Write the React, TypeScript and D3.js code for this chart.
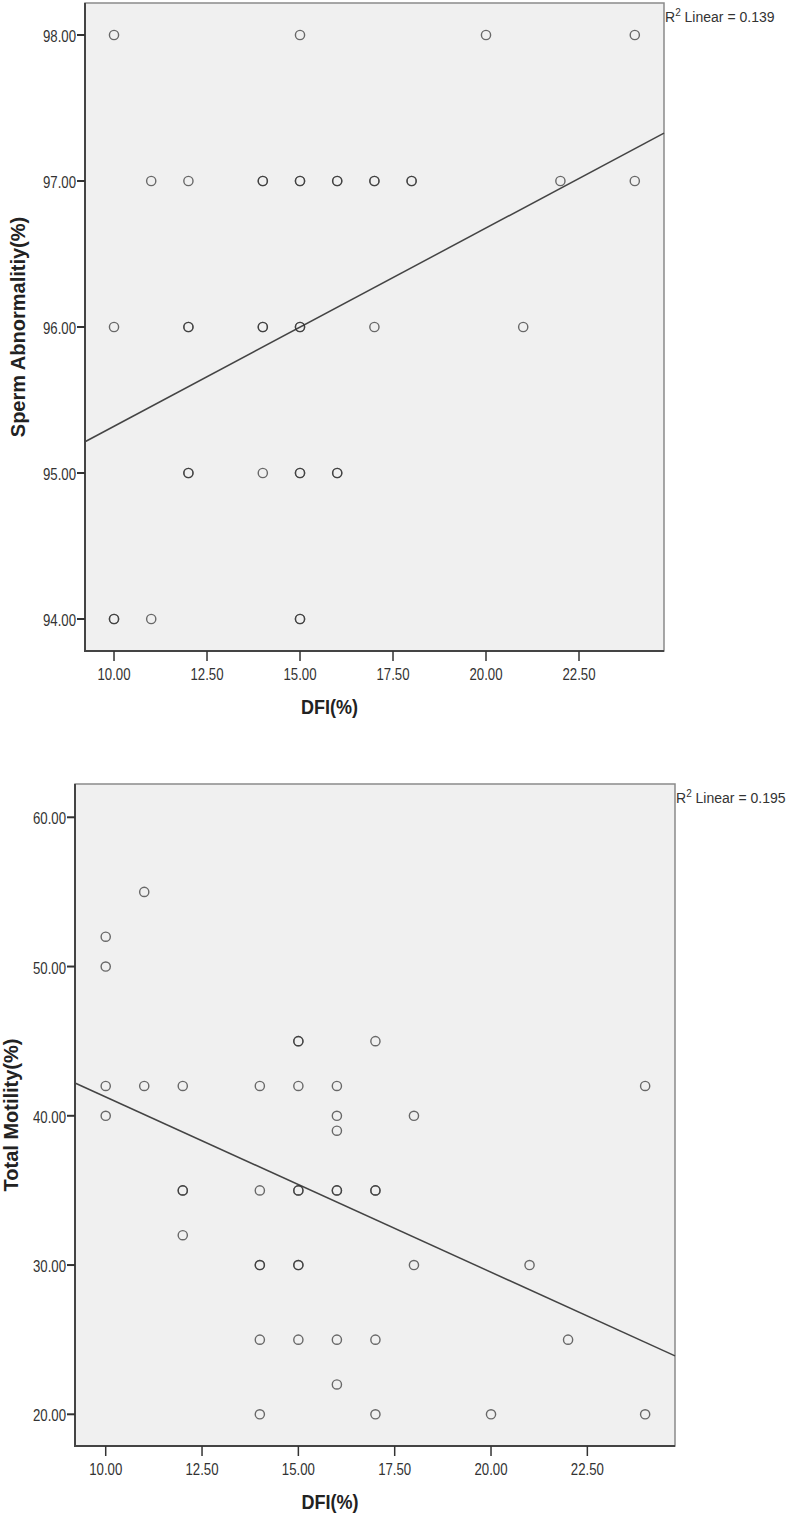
import React from "react";
import * as d3 from "d3";

// ---------- Data ----------
const xTicks = [10, 12.5, 15, 17.5, 20, 22.5];

// Chart 1: DFI(%) vs Sperm Abnormality(%)
const abnDFI = [
  10, 15, 20, 24,
  11, 12, 14, 14, 15, 15, 16, 16, 17, 17, 18, 18, 22, 24,
  10, 12, 12, 14, 14, 15, 15, 17, 21,
  12, 12, 14, 15, 15, 16, 16,
  10, 10, 11, 15, 15,
];
const abnValues = [
  98, 98, 98, 98,
  97, 97, 97, 97, 97, 97, 97, 97, 97, 97, 97, 97, 97, 97,
  96, 96, 96, 96, 96, 96, 96, 96, 96,
  95, 95, 95, 95, 95, 95, 95,
  94, 94, 94, 94, 94,
];
const abnTicks = [94, 95, 96, 97, 98];
const abnFit = { intercept: 93.962, slope: 0.1358, r2: "0.139" };

// Chart 2: DFI(%) vs Total Motility(%)
const motDFI = [
  11, 10, 10,
  15, 15, 17,
  10, 11, 12, 14, 15, 16, 24,
  10, 16, 18,
  16,
  12, 12, 14, 15, 15, 16, 16, 17, 17,
  12,
  14, 14, 15, 15, 18, 21,
  14, 15, 16, 17, 22,
  16,
  14, 17, 20, 24,
];
const motValues = [
  55, 52, 50,
  45, 45, 45,
  42, 42, 42, 42, 42, 42, 42,
  40, 40, 40,
  39,
  35, 35, 35, 35, 35, 35, 35, 35, 35,
  32,
  30, 30, 30, 30, 30, 30,
  25, 25, 25, 25, 25,
  22,
  20, 20, 20, 20,
];
const motTicks = [20, 30, 40, 50, 60];
const motFit = { intercept: 53.0, slope: -1.174, r2: "0.195" };

const FONT = "'Liberation Sans', Arial, Helvetica, sans-serif";

type ChartProps = {
  xs: number[];
  ys: number[];
  yTicks: number[];
  fit: { intercept: number; slope: number; r2: string };
  xDomain: [number, number];
  yDomain: [number, number];
  left: number;
  right: number;
  top: number;
  bottom: number;
  yTitle: string;
  yTitleX: number;
};

function Scatter(p: ChartProps) {
  const x = d3.scaleLinear().domain(p.xDomain).range([p.left, p.right]);
  const y = d3.scaleLinear().domain(p.yDomain).range([p.bottom, p.top]);
  const fmt = d3.format(".2f");
  const line = d3
    .line<number>()
    .x((d) => x(d))
    .y((d) => y(p.fit.intercept + p.fit.slope * d));
  const midY = (p.top + p.bottom) / 2;
  const midX = (p.left + p.right) / 2;
  return (
    <g>
      <rect
        x={p.left}
        y={p.top}
        width={p.right - p.left}
        height={p.bottom - p.top}
        fill="#f0f0f0"
        stroke="#8a8a8a"
        strokeWidth={1.5}
      />
      <line x1={p.left} x2={p.left} y1={p.top} y2={p.bottom + 1} stroke="#444" strokeWidth={2} />
      <line x1={p.left} x2={p.right} y1={p.bottom} y2={p.bottom} stroke="#444" strokeWidth={2} />
      {/* y ticks */}
      {p.yTicks.map((t) => (
        <g key={"y" + t}>
          <line x1={p.left - 8} x2={p.left} y1={y(t)} y2={y(t)} stroke="#333" strokeWidth={2} />
          <text
            transform={`translate(${p.left - 9},${y(t) + 1}) scale(0.8,1)`}
            textAnchor="end"
            dominantBaseline="central"
            fontFamily={FONT}
            fontSize={16.5}
            fill="#333"
          >
            {fmt(t)}
          </text>
        </g>
      ))}
      {/* x ticks */}
      {xTicks.map((t) => (
        <g key={"x" + t}>
          <line x1={x(t)} x2={x(t)} y1={p.bottom} y2={p.bottom + 10} stroke="#333" strokeWidth={1.5} />
          <text
            transform={`translate(${x(t)},${p.bottom + 23}) scale(0.8,1)`}
            textAnchor="middle"
            dominantBaseline="central"
            fontFamily={FONT}
            fontSize={16.5}
            fill="#333"
          >
            {fmt(t)}
          </text>
        </g>
      ))}
      {/* fit line */}
      <path d={line([p.xDomain[0], p.xDomain[1]]) || ""} stroke="#444" strokeWidth={1.5} fill="none" />
      {/* points */}
      {p.xs.map((v, i) => (
        <circle
          key={i}
          cx={x(v)}
          cy={y(p.ys[i])}
          r={4.6}
          fill="none"
          stroke="#333"
          strokeOpacity={0.72}
          strokeWidth={1.4}
        />
      ))}
      {/* R2 label */}
      <text x={p.right + 1} y={p.top + 19} fontFamily={FONT} fontSize={14} fill="#333">
        <tspan>R</tspan>
        <tspan fontSize={10} dy={-6}>2</tspan>
        <tspan dy={6}>{" Linear = " + p.fit.r2}</tspan>
      </text>
      {/* axis titles */}
      <text
        transform={`translate(${midX - 45},${p.bottom + 56}) scale(0.9,1)`}
        textAnchor="middle"
        dominantBaseline="central"
        fontFamily={FONT}
        fontWeight="bold"
        fontSize={20}
        fill="#222"
      >
        DFI(%)
      </text>
      <text
        transform={`translate(${p.yTitleX},${midY}) rotate(-90)`}
        textAnchor="middle"
        dominantBaseline="central"
        fontFamily={FONT}
        fontWeight="bold"
        fontSize={20}
        fill="#222"
      >
        {p.yTitle}
      </text>
    </g>
  );
}

export default function App() {
  return (
    <svg
      width={787}
      height={1519}
      style={{ position: "absolute", left: 0, top: 0, background: "#fff" }}
    >
      <rect x={0} y={0} width={787} height={1519} fill="#fff" />
      <Scatter
        xs={abnDFI}
        ys={abnValues}
        yTicks={abnTicks}
        fit={abnFit}
        xDomain={[9.22, 24.785]}
        yDomain={[93.781, 98.219]}
        left={85}
        right={664}
        top={3}
        bottom={651}
        yTitle="Sperm Abnormalitiy(%)"
        yTitleX={18}
      />
      <Scatter
        xs={motDFI}
        ys={motValues}
        yTicks={motTicks}
        fit={motFit}
        xDomain={[9.203, 24.775]}
        yDomain={[17.876, 62.23]}
        left={75}
        right={675}
        top={784}
        bottom={1446}
        yTitle="Total Motility(%)"
        yTitleX={11}
      />
    </svg>
  );
}
